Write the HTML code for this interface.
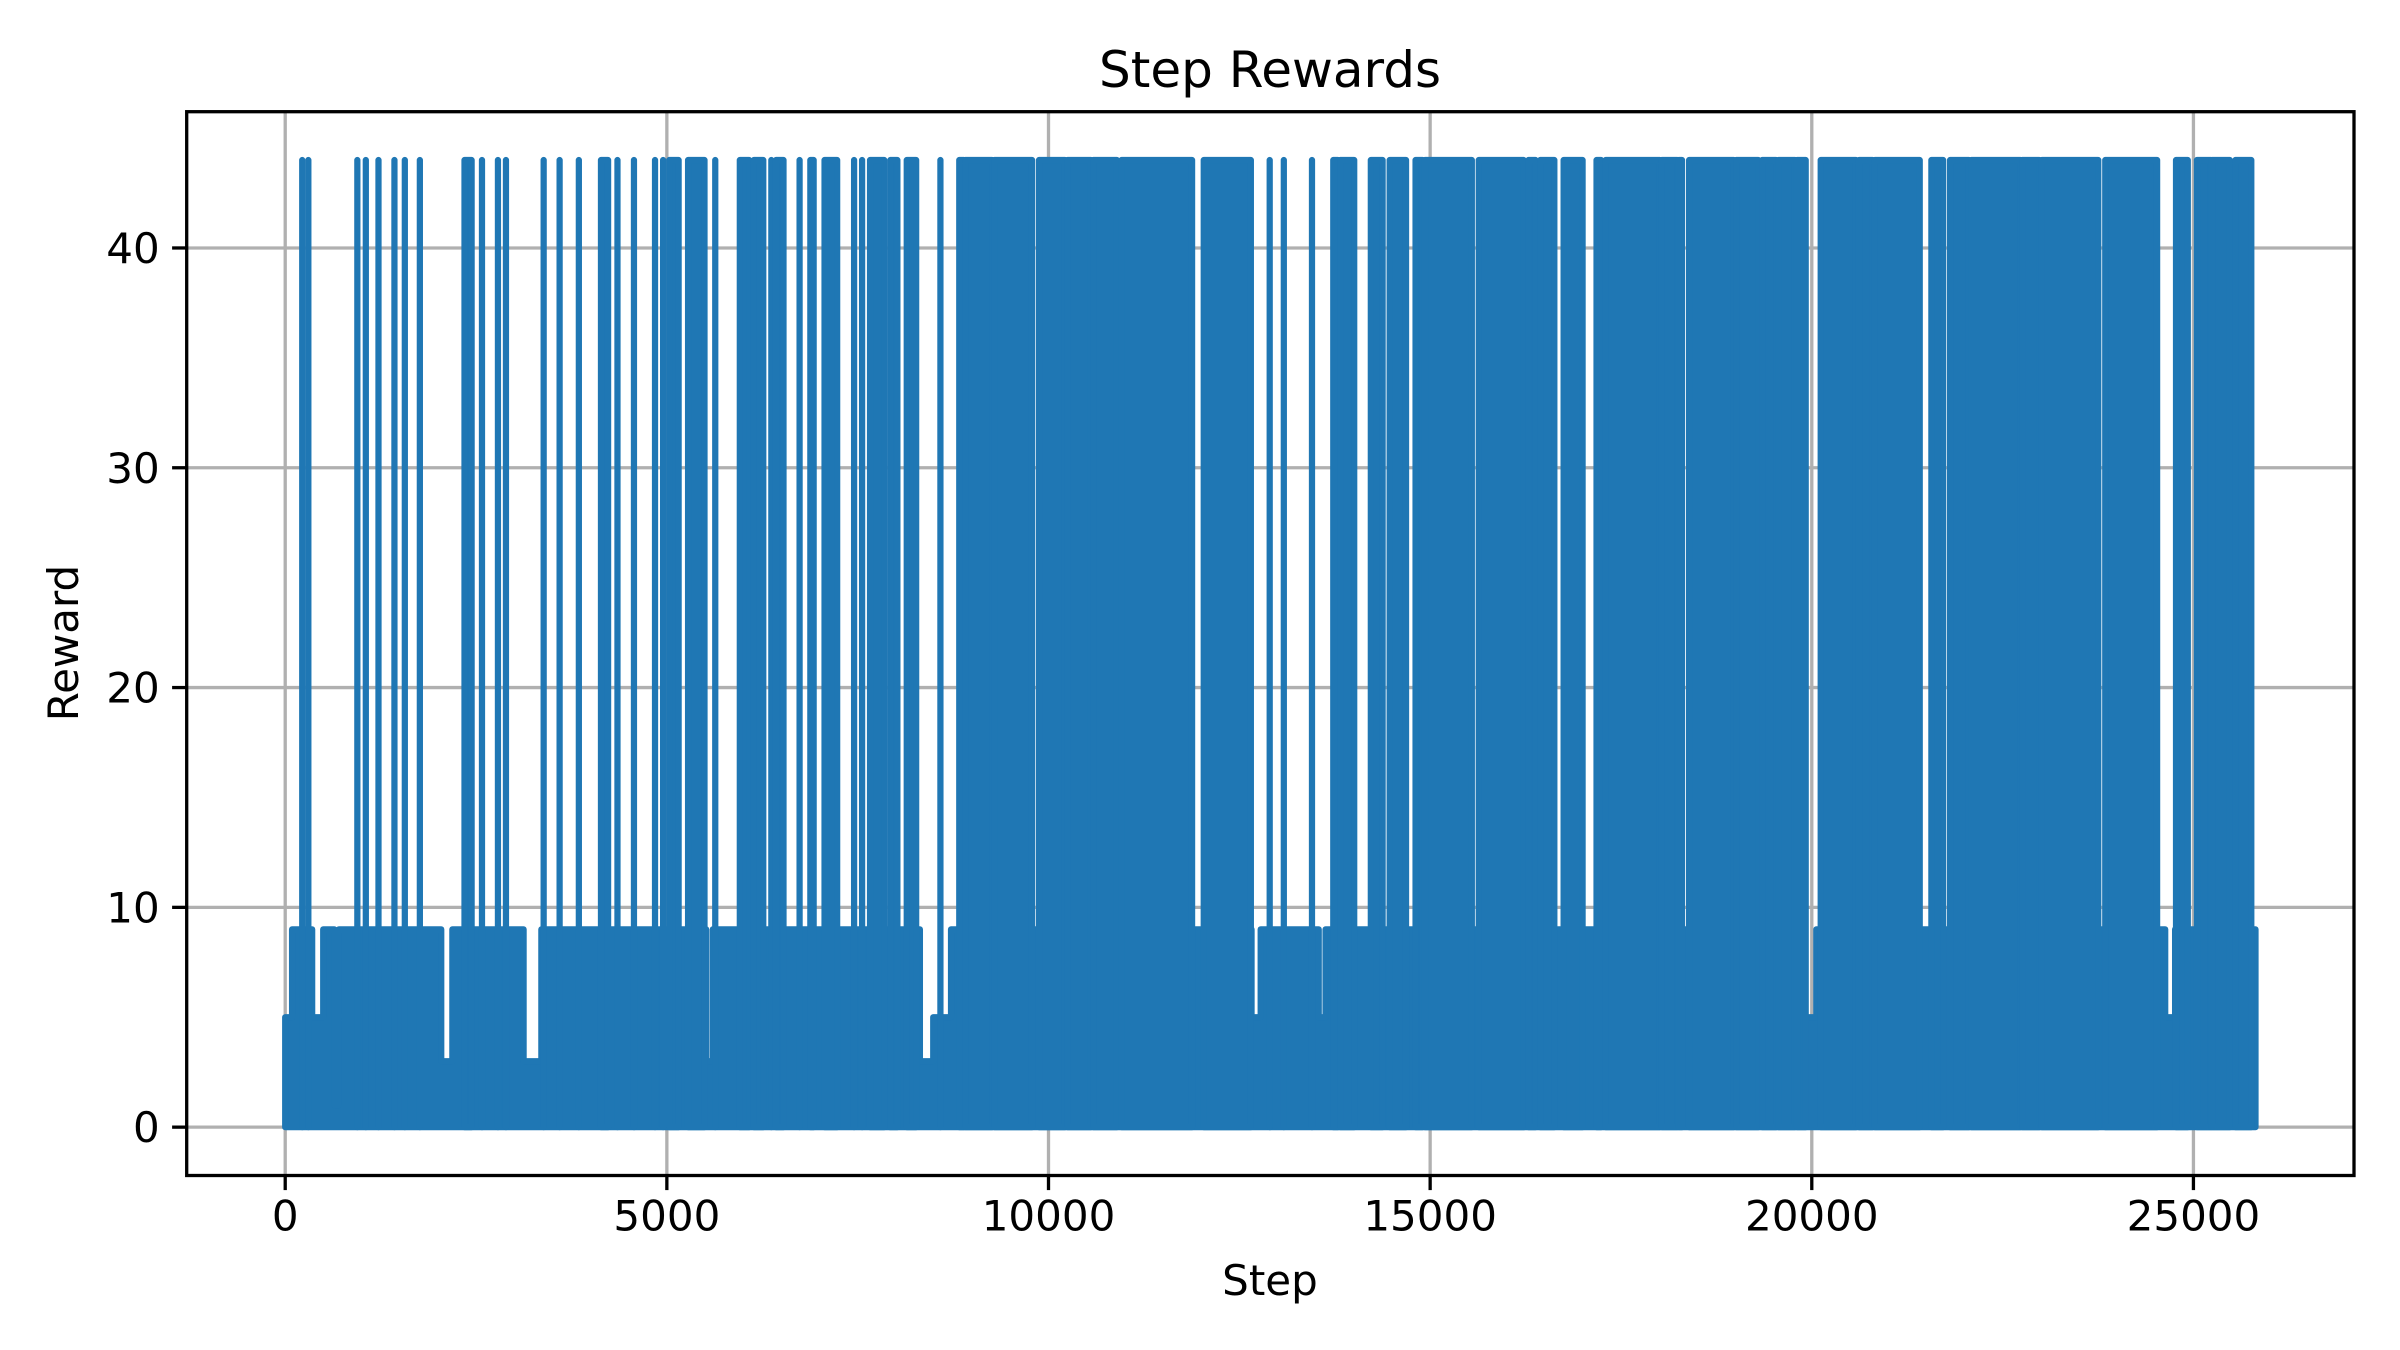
<!DOCTYPE html>
<html><head><meta charset="utf-8"><style>
html,body{margin:0;padding:0;background:#fff;}
svg{display:block;font-family:"DejaVu Sans","Liberation Sans",sans-serif;}
</style></head><body>
<svg id="chart" width="2400" height="1350" viewBox="0 0 2400 1350" xmlns="http://www.w3.org/2000/svg">
<rect width="2400" height="1350" fill="#fff"/>
<g id="grid"></g>
<g id="series"></g>
<g id="axes"></g>
<text x="1270" y="87" font-size="50" text-anchor="middle">Step Rewards</text>
<text x="1270" y="1295" font-size="42" text-anchor="middle">Step</text>
<text x="78" y="643" font-size="42" text-anchor="middle" transform="rotate(-90 78 643)">Reward</text>
</svg>
<script>
const xTicks = [0, 5000, 10000, 15000, 20000, 25000];
const yTicks = [0, 10, 20, 30, 40];
const peakValue = 44;
// [start, end] step ranges where reward spikes to peak
const peakRanges = [[223,223],[303,303],[945,945],[1056,1056],[1222,1222],[1431,1431],[1567,1567],[1764,1764],[2349,2442],[2578,2578],[2787,2787],[2892,2892],[3386,3386],[3595,3595],[3847,3847],[4137,4230],[4353,4353],[4569,4569],[4845,4845],[4951,4951],[5031,5154],[5278,5493],[5634,5634],[5956,6079],[6140,6263],[6369,6369],[6430,6528],[6739,6739],[6880,6923],[7066,7231],[7453,7453],[7558,7558],[7662,7848],[7928,8020],[8143,8266],[8584,8584],[8831,8892],[8910,9262],[9292,9785],[9876,10216],[10249,10556],[10587,10896],[10957,11881],[12034,12651],[12898,12898],[13083,13083],[13452,13452],[13731,13792],[13822,14005],[14223,14377],[14470,14684],[14809,14901],[14932,15546],[15637,16225],[16288,16381],[16442,16627],[16749,16997],[17180,17240],[17300,18010],[18035,18239],[18257,18300],[18393,18978],[19010,19300],[19350,19533],[19564,19781],[19806,19920],[20117,20580],[20620,20796],[20826,21414],[21567,21721],[21812,22059],[22091,22734],[22756,22982],[23014,23753],[23845,24524],[24772,24926],[25046,25229],[25242,25477],[25550,25758]];
// base band: [start, end, level]
const baseSegments = [[0,90,5],[90,353,9],[353,498,5],[498,644,9],[644,703,1],[703,2044,9],[2044,2190,3],[2190,3123,9],[3123,3356,3],[3356,5515,9],[5515,5602,3],[5602,8315,9],[8315,8490,3],[8490,8723,5],[8723,12660,9],[12660,12780,5],[12780,13540,9],[13540,13630,5],[13630,18010,9],[18010,18240,5],[18240,19770,9],[19770,20060,5],[20060,21770,9],[21770,21780,1],[21780,21930,5],[21930,24630,9],[24630,24760,5],[24760,25813,9]];

const NS = "http://www.w3.org/2000/svg";
const L = 186.7, R = 2354, T = 111.7, B = 1175.5;
const xMin = -1290.65, xMax = 27103.65, yMin = -2.2, yMax = 46.2;
const xs = v => L + (v - xMin) / (xMax - xMin) * (R - L);
const ys = v => B - (v - yMin) / (yMax - yMin) * (B - T);
function mk(tag, attrs, parent) { const e = document.createElementNS(NS, tag); for (const k in attrs) e.setAttribute(k, attrs[k]); parent.appendChild(e); return e; }
const grid = document.getElementById('grid'), axes = document.getElementById('axes'), series = document.getElementById('series');
const col = '#1f77b4';

xTicks.forEach(t => {
  const x = xs(t);
  const g = mk('line', {x1:x, x2:x, y1:T, y2:B, stroke:'#b0b0b0', 'stroke-width':3.3}, grid);
  
  
  const tk = mk('line', {x1:x, x2:x, y1:B, y2:B+14.6, stroke:'#000', 'stroke-width':3.3}, axes);
  
  
  const lb = mk('text', {x:x, y:B+55, 'font-size':42, 'text-anchor':'middle'}, axes);
  lb.textContent = t;
  
  
});
yTicks.forEach(t => {
  const y = ys(t);
  const g = mk('line', {x1:L, x2:R, y1:y, y2:y, stroke:'#b0b0b0', 'stroke-width':3.3}, grid);
  
  
  const tk = mk('line', {x1:L-14.6, x2:L, y1:y, y2:y, stroke:'#000', 'stroke-width':3.3}, axes);
  
  
  const lb = mk('text', {x:L-27, y:y+15, 'font-size':42, 'text-anchor':'end'}, axes);
  lb.textContent = t;
  
  
});

let d = 'M' + xs(baseSegments[0][0]) + ',' + ys(0);
baseSegments.forEach(s => { d += ' L' + xs(s[0]) + ',' + ys(s[2]) + ' L' + xs(s[1]) + ',' + ys(s[2]); });
d += ' L' + xs(baseSegments[baseSegments.length-1][1]) + ',' + ys(0) + ' Z';
const base = mk('path', {d:d, fill:col, stroke:col, 'stroke-width':6.25, 'stroke-linejoin':'round'}, series);



peakRanges.forEach(r => {
  const x0 = xs(r[0]), x1 = xs(r[1]), y0 = ys(0), y1 = ys(peakValue);
  const p = mk('path', {d:`M${x0},${y0} L${x0},${y1} L${x1},${y1} L${x1},${y0} Z`, fill:col, stroke:col, 'stroke-width':6.25, 'stroke-linejoin':'round'}, series);
  
  
});

const frame = mk('rect', {x:L, y:T, width:R-L, height:B-T, fill:'none', stroke:'#000', 'stroke-width':3.3}, axes);


</script>
</body></html>
